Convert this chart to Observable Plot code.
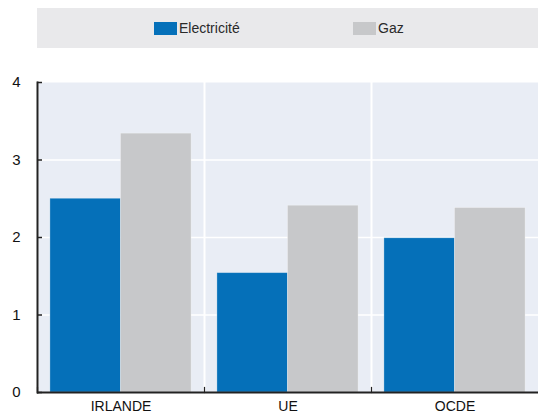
<!DOCTYPE html>
<html>
<head>
<meta charset="utf-8">
<script src="https://cdn.jsdelivr.net/npm/d3@7"></script>
<script src="https://cdn.jsdelivr.net/npm/@observablehq/plot@0.6"></script>
<style>
  html, body { margin: 0; padding: 0; background: #fff; overflow: hidden; }
  body { width: 538px; height: 414px; font-family: "Liberation Sans", Arial, sans-serif; }
  #legend { position: relative; margin-left: 37px; margin-top: 8px; width: 501px; height: 40px; background: #e9e9eb; }
  .item { position: absolute; top: 13px; display: flex; align-items: center; font-size: 14px; color: #2a2a2a; height: 14px; }
  .sw { width: 23px; height: 13px; margin-right: 2px; }
  #spacer { height: 12px; }
  #chart svg { display: block; }
</style>
</head>
<body>
<div id="legend"></div>
<div id="spacer"></div>
<div id="chart"></div>
<script>
const countries = ["IRLANDE", "UE", "OCDE"];
const series = ["Electricité", "Gaz"];
const electricite = [2.5, 1.54, 1.99];
const gaz = [3.34, 2.41, 2.38];
const yTicks = [0, 1, 2, 3, 4];
const colors = ["#0570b9", "#c7c8ca"];

const rows = [];
countries.forEach((c, i) => {
  rows.push({country: c, serie: series[0], value: electricite[i]});
  rows.push({country: c, serie: series[1], value: gaz[i]});
});

// legend
const legend = document.getElementById("legend");
const legendLeft = [117, 316];
series.forEach((s, i) => {
  const it = document.createElement("div");
  it.className = "item";
  it.style.left = legendLeft[i] + "px";
  const sw = document.createElement("span");
  sw.className = "sw";
  sw.style.background = colors[i];
  const tx = document.createElement("span");
  tx.textContent = s;
  it.appendChild(sw); it.appendChild(tx);
  legend.appendChild(it);
});

const chart = Plot.plot({
  width: 538,
  height: 354,
  marginTop: 22,
  marginBottom: 22,
  marginLeft: 37,
  marginRight: 0,
  style: {fontFamily: "'Liberation Sans', Arial, sans-serif", fontSize: "14px", color: "#111", background: "transparent"},
  fx: {domain: countries, padding: 0, label: null},
  x: {domain: series, paddingInner: 0, paddingOuter: 0.183, axis: null, round: false},
  y: {domain: [0, 4], label: null},
  color: {domain: series, range: colors},
  marks: [
    Plot.frame({fill: "#e9edf5", stroke: null}),
    Plot.gridY(yTicks.filter(d => d > 0 && d < 4), {stroke: "white", strokeOpacity: 1, strokeWidth: 1.5}),
    Plot.frame({anchor: "left", stroke: "white", strokeWidth: 2}),
    Plot.barY(rows, {fx: "country", x: "serie", y: "value", fill: "serie", stroke: "white", strokeOpacity: 0.35, strokeWidth: 0.8}),
    Plot.frame({anchor: "left", stroke: "#222", strokeWidth: 1.2, insetTop: 305}),
    Plot.frame({anchor: "left", stroke: "#222", strokeWidth: 2, facetAnchor: "left"}),
    Plot.ruleY([0], {stroke: "#222", strokeWidth: 2}),
    Plot.axisY(yTicks, {tickSize: 0, tickPadding: 17, fontSize: 15, fill: "#111", tickFormat: d3.format("d"), label: null}),
    Plot.axisY(yTicks, {tickSize: 5, dx: 5, tickFormat: () => "", stroke: "#222", strokeWidth: 1.5, label: null}),
    Plot.axisFx({anchor: "bottom", tickSize: 0, tickPadding: 9, fontSize: 14, fill: "#111", label: null})
  ]
});
document.getElementById("chart").appendChild(chart);
</script>
</body>
</html>
